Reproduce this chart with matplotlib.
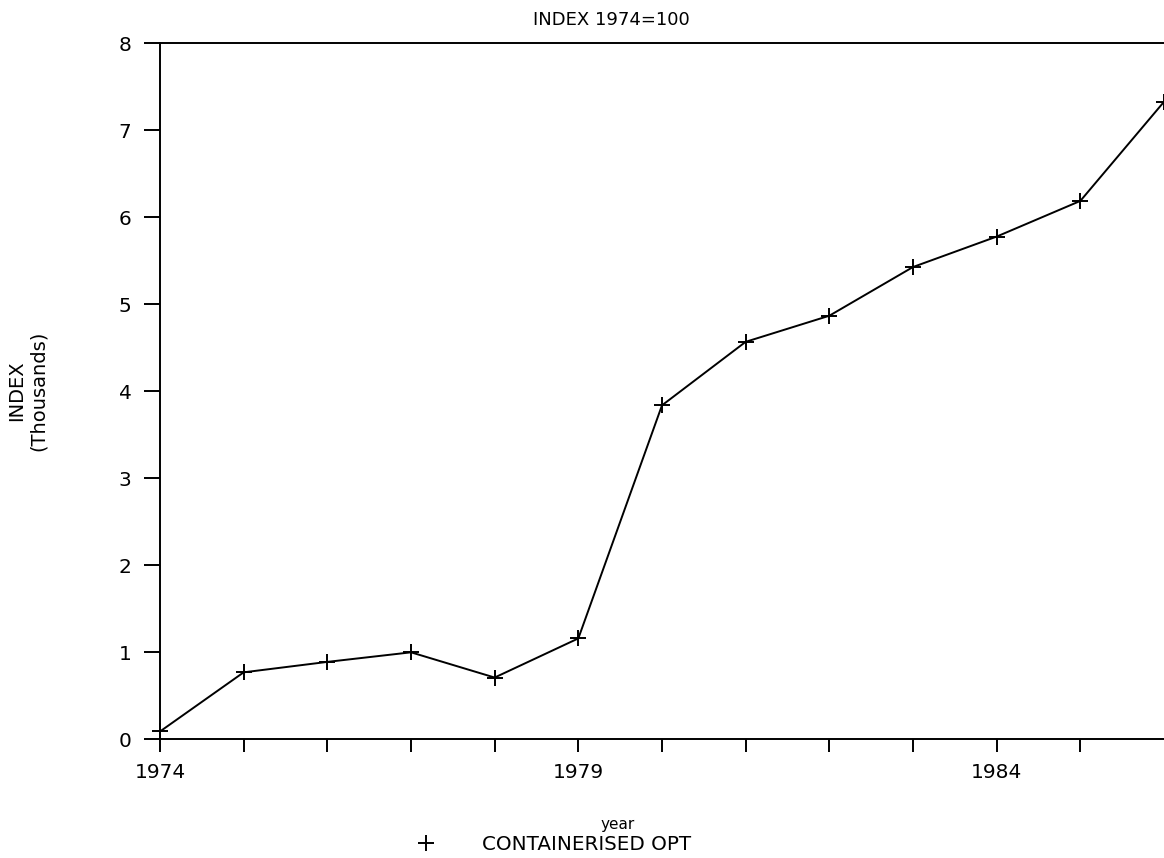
import matplotlib
matplotlib.use("Agg")
import matplotlib.pyplot as plt
from matplotlib.lines import Line2D

years = [1974, 1975, 1976, 1977, 1978, 1979, 1980, 1981, 1982, 1983, 1984, 1985, 1986]
index_thousands = [0.09, 0.77, 0.89, 1.00, 0.71, 1.16, 3.84, 4.57, 4.87, 5.43, 5.78, 6.19, 7.33]
xtick_positions = list(range(1974, 1986))
xtick_labels = ["1974" if y == 1974 else "1979" if y == 1979 else "1984" if y == 1984 else "" for y in xtick_positions]
yticks = [0, 1, 2, 3, 4, 5, 6, 7, 8]
series_name = "CONTAINERISED OPT"

plt.rcParams['font.family'] = ['DejaVu Sans']

W, H = 1164, 858
fig = plt.figure(figsize=(W / 100, H / 100), dpi=100)
left_px, right_px = 160, 1164
top_px, bottom_px = 43.5, 739.3
ax = fig.add_axes([left_px / W, 1 - bottom_px / H, (right_px - left_px) / W, (bottom_px - top_px) / H])

ax.plot(years, index_thousands, color='black', linewidth=1.4, marker='+',
        markersize=11, markeredgewidth=1.4, clip_on=False)

ax.set_xlim(1974, 1986)
ax.set_ylim(0, 8)
ax.set_xticks(xtick_positions)
ax.set_xticklabels(xtick_labels)
ax.set_yticks(yticks)
ax.set_yticklabels([str(v) for v in yticks])

for s in ['left', 'bottom', 'top']:
    ax.spines[s].set_linewidth(1.4)
    ax.spines[s].set_color('black')
ax.spines['right'].set_visible(False)

ax.tick_params(axis='y', direction='out', length=11.5, width=1.4, pad=9.0, labelsize=14.5)
ax.tick_params(axis='x', direction='out', length=9.4, width=1.4, pad=7.5, labelsize=14.5)

ax.set_xlabel('year', fontsize=11, va='center')
ax.xaxis.set_label_coords((618 - left_px) / (right_px - left_px), -(825 - bottom_px) / (bottom_px - top_px))

fig.text(27.5 / W, 1 - 391 / H, 'INDEX\n(Thousands)', rotation=90, ha='center', va='center',
         fontsize=14, linespacing=1.2)

fig.text(533 / W, 1 - 20 / H, 'INDEX 1974=100', ha='left', va='center', fontsize=13)

handle = Line2D([], [], color='black', linestyle='none', marker='+', markersize=11, markeredgewidth=1.4)
fig.legend([handle], [series_name], loc='center left', bbox_to_anchor=(416 / W, 1 - 844 / H),
           frameon=False, fontsize=14.3, handlelength=1.0, handletextpad=2.3,
           borderpad=0, borderaxespad=0)

fig.savefig('out.png', dpi=100)
